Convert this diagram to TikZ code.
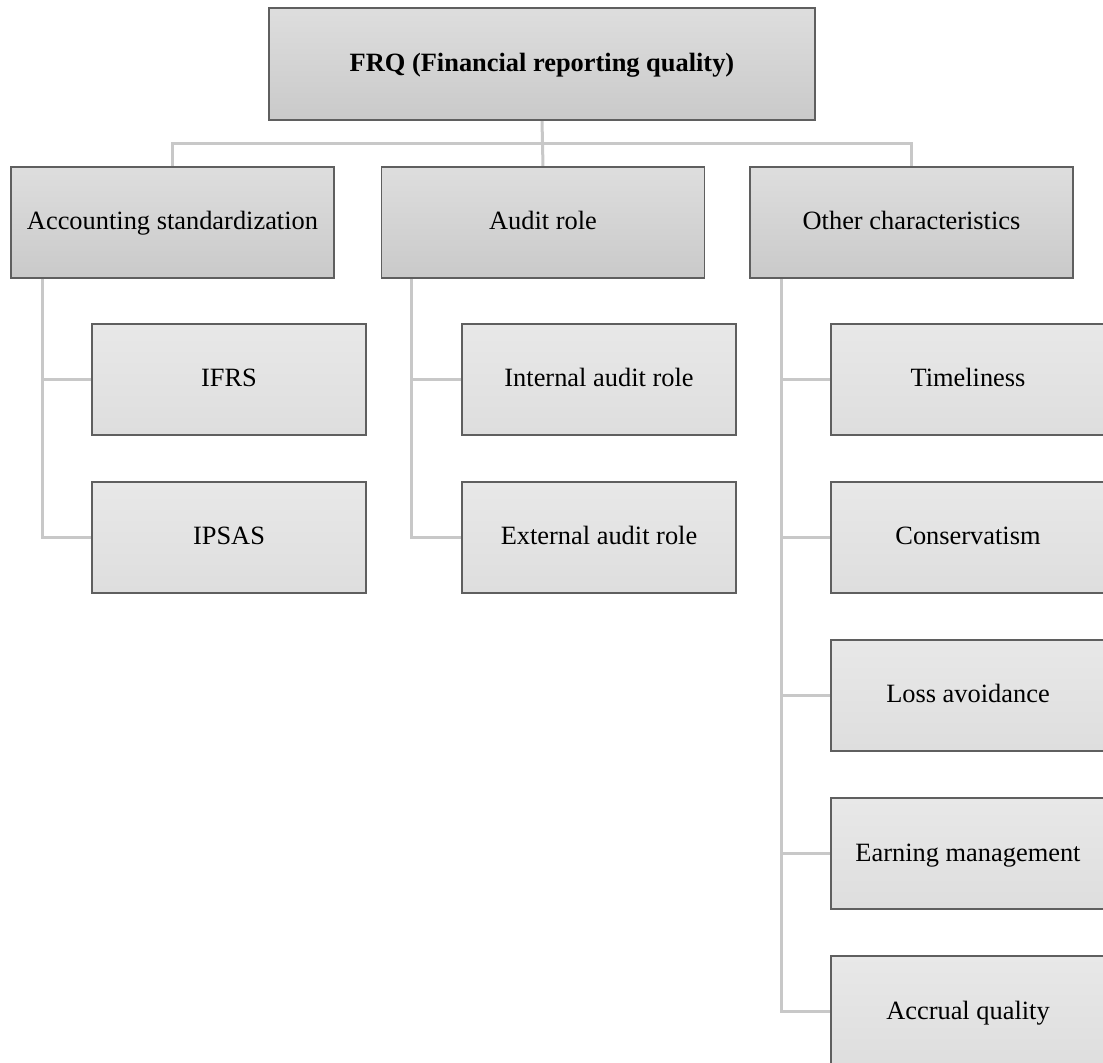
\documentclass[tikz,border=0pt]{standalone}
\usepackage{fontspec}
\setmainfont{Liberation Serif}
\usepackage{tikz}
\usetikzlibrary{positioning,calc,backgrounds}
\definecolor{boxline}{HTML}{5F5F5F}
\definecolor{linkgray}{HTML}{C8C8C8}
\tikzstyle{headbox}=[draw=boxline,line width=0.6pt,rectangle,top color=black!13,bottom color=black!21,minimum width=161.5pt,minimum height=55.5pt,inner sep=1pt,text height=9.5pt,text depth=2pt,font=\fontsize{13.2}{16}\selectfont]
\tikzstyle{leafbox}=[draw=boxline,line width=0.6pt,rectangle,top color=black!9,bottom color=black!13,minimum width=137pt,minimum height=55.5pt,inner sep=1pt,text height=9.5pt,text depth=2pt,font=\fontsize{13.2}{16}\selectfont]

\begin{document}
\begin{tikzpicture}[x=0.5pt,y=-0.5pt]
\tikzstyle{link}=[draw=linkgray,line width=1.5pt]
\useasboundingbox (0,0) rectangle (1103,1063);
\node [headbox,minimum width=273pt,minimum height=56pt] (frq) at (542,64) {\textbf{FRQ (Financial reporting quality)}};

\node [headbox] (acc) at (172.5,222.5) {Accounting standardization};
\node [headbox] (aud) at (543,222.5) {Audit role};
\node [headbox] (oth) at (911.5,222.5) {Other characteristics};

\node [leafbox] (ifrs) at (229,379.5) {IFRS};
\node [leafbox] (ipsas) at (229,537.5) {IPSAS};
\node [leafbox] (int) at (599,379.5) {Internal audit role};
\node [leafbox] (ext) at (599,537.5) {External audit role};
\node [leafbox] (time) at (968,379.5) {Timeliness};
\node [leafbox] (cons) at (968,537.5) {Conservatism};
\node [leafbox] (loss) at (968,695.5) {Loss avoidance};
\node [leafbox] (earn) at (968,853.5) {Earning management};
\node [leafbox] (accr) at (968,1011.5) {Accrual quality};

\coordinate (bus) at ($(frq.south)!.5!(aud.north)$);
\coordinate (A) at ([xshift=16pt]acc.south west);
\coordinate (B) at ([xshift=15.5pt]aud.south west);
\coordinate (C) at ([xshift=16pt]oth.south west);

\begin{scope}[on background layer]
\draw [link] (frq.south) -- (aud.north);
\draw [link] (acc.north) |- (bus) -| (oth.north);
\draw [link] (A) |- (ifrs.west);
\draw [link] (A) |- (ipsas.west);
\draw [link] (B) |- (int.west);
\draw [link] (B) |- (ext.west);
\foreach \n in {time,cons,loss,earn,accr}
  \draw [link] (C) |- (\n.west);
\end{scope}
\end{tikzpicture}
\end{document}
